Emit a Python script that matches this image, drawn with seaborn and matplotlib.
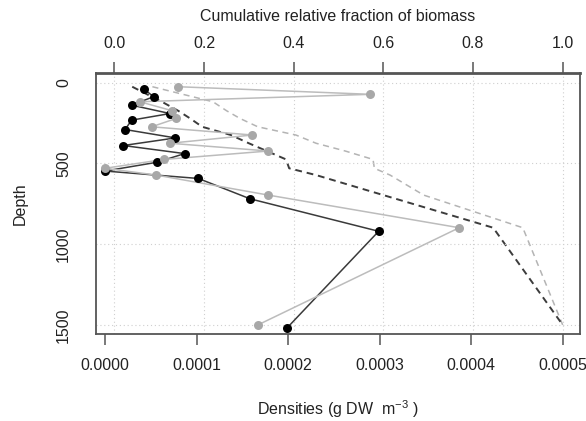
import numpy as np
import pandas as pd
import seaborn as sns
import matplotlib
matplotlib.use("Agg")
import matplotlib.pyplot as plt

# black series (densities, g DW m-3) by depth
black_depth = [41, 87, 139, 191, 232, 290, 342, 389, 439, 493, 547, 593, 719, 920, 1518]
black_dens = [4.3e-5, 5.3e-5, 2.9e-5, 7.1e-5, 2.9e-5, 2.2e-5, 7.7e-5, 2.0e-5, 8.7e-5,
              5.65e-5, 0.0, 1.02e-4, 1.585e-4, 2.99e-4, 1.99e-4]

# grey series
grey_depth = [25, 72, 118, 173, 221, 273, 324, 375, 423, 475, 530, 572, 696, 898, 1500]
grey_dens = [8.0e-5, 2.90e-4, 3.8e-5, 7.3e-5, 7.8e-5, 5.1e-5, 1.61e-4, 7.1e-5, 1.785e-4,
             6.45e-5, 0.0, 5.6e-5, 1.785e-4, 3.87e-4, 1.67e-4]

# cumulative relative fraction of biomass (top axis)
cum_depth = [25, 72, 118, 173, 221, 273, 324, 375, 423, 475, 530, 572, 696, 898, 1500]
cum_dark = [0.04, 0.073, 0.106, 0.142, 0.169, 0.196, 0.26, 0.30, 0.34, 0.383, 0.39, 0.45, 0.60, 0.845, 1.0]
cum_light = [0.085, 0.153, 0.22, 0.25, 0.28, 0.32, 0.405, 0.45, 0.515, 0.577, 0.58, 0.615, 0.69, 0.911, 1.0]

dens_ticks = [0.0, 0.0001, 0.0002, 0.0003, 0.0004, 0.0005]
cum_ticks = [0.0, 0.2, 0.4, 0.6, 0.8, 1.0]
depth_ticks = [0, 500, 1000, 1500]

sns.set_style("white")
plt.rcParams['font.family'] = ['Liberation Sans', 'DejaVu Sans']
plt.rcParams['mathtext.fontset'] = 'custom'
plt.rcParams['mathtext.rm'] = 'Liberation Sans'
plt.rcParams['mathtext.it'] = 'Liberation Sans:italic'

W, H = 586, 421
fig = plt.figure(figsize=(W / 100, H / 100), dpi=100)
fig.patch.set_facecolor("white")
L, R, T, B = 96, 580, 73, 334
ax = fig.add_axes([L / W, 1 - B / H, (R - L) / W, (B - T) / H])
ax2 = ax.twiny()
ax.set_zorder(ax2.get_zorder() + 1)
ax.patch.set_visible(False)

grid_kw = dict(color="#cfcfcf", lw=0.8, ls=(0, (1, 2.5)))
txt = "#222222"
frame = "#555555"

# cumulative lines on top axis
df_cum = pd.DataFrame({"depth": cum_depth, "dark": cum_dark, "light": cum_light})
sns.lineplot(data=df_cum, x="light", y="depth", sort=False, estimator=None, ax=ax2,
             color="#b4b4b4", lw=1.1, dashes=False, linestyle=(0, (4, 3)))
sns.lineplot(data=df_cum, x="dark", y="depth", sort=False, estimator=None, ax=ax2,
             color="#3c3c3c", lw=1.4, dashes=False, linestyle=(0, (3.5, 2.5)))
ax2.set_xlim(-0.0408, 1.0386)
ax2.set_xticks(cum_ticks)
ax2.set_xticklabels(["0.0", "0.2", "0.4", "0.6", "0.8", "1.0"])
for v in cum_ticks:
    ax2.axvline(v, zorder=0, **grid_kw)
ax2.set_xlabel("Cumulative relative fraction of biomass", fontsize=11.5, color=txt)
ax2.xaxis.set_label_coords(0.5, 1 + (T - 17) / (B - T))
ax2.xaxis.label.set_va("center")
ax2.tick_params(axis="x", top=True, length=8, width=1.1, color=frame,
                labelsize=11.5, labelcolor=txt, pad=8)
for s in ax2.spines.values():
    s.set_visible(False)

# density series on bottom axis
df_black = pd.DataFrame({"dens": black_dens, "depth": black_depth})
df_grey = pd.DataFrame({"dens": grey_dens, "depth": grey_depth})
sns.lineplot(data=df_black, x="dens", y="depth", sort=False, estimator=None, ax=ax,
             color="#3a3a3a", lw=1.1)
sns.scatterplot(data=df_black, x="dens", y="depth", ax=ax, color="black", s=42,
                linewidth=0, zorder=3)
sns.lineplot(data=df_grey, x="dens", y="depth", sort=False, estimator=None, ax=ax,
             color="#bcbcbc", lw=1.1)
sns.scatterplot(data=df_grey, x="dens", y="depth", ax=ax, color="#a8a8a8", s=42,
                linewidth=0, zorder=4)

for v in depth_ticks:
    ax.axhline(v, zorder=0, **grid_kw)

ax.set_xlim(-9.84e-6, 5.19e-4)
ax.set_ylim(1556, -60)
ax2.set_ylim(1556, -60)
ax.set_xticks(dens_ticks)
ax.set_xticklabels(["0.0000", "0.0001", "0.0002", "0.0003", "0.0004", "0.0005"])
ax.set_yticks(depth_ticks)
ax.set_yticklabels([str(v) for v in depth_ticks], rotation=90, va="center")
ax.tick_params(axis="both", length=8, width=1.1, color=frame, labelsize=11.5,
               labelcolor=txt)
ax.tick_params(axis="x", pad=9)
ax.tick_params(axis="y", pad=10)

ax.set_xlabel(r"Densities (g DW  m$^{-3}$ )", fontsize=11.5, color=txt)
ax.xaxis.set_label_coords(0.5, -(409 - B) / (B - T))
ax.xaxis.label.set_va("center")
ax.set_ylabel("Depth", fontsize=11.5, color=txt)
ax.yaxis.set_label_coords(-(L - 20) / (R - L), 0.5)
ax.yaxis.label.set_va("center")

for s in ax.spines.values():
    s.set_visible(True)
    s.set_color(frame)
    s.set_linewidth(1.3)
ax.spines["top"].set_linewidth(2.0)

fig.savefig("out.png", dpi=100)
